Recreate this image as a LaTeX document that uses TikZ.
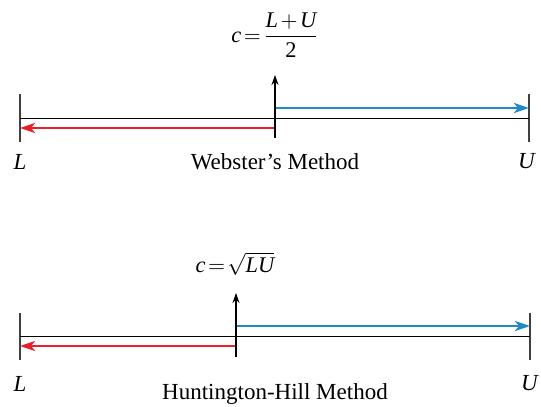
\documentclass[tikz,border=0pt]{standalone}
\usepackage{amsmath}
\usepackage{fontspec}
\setmainfont{Liberation Serif}
\usetikzlibrary{arrows.meta}
\definecolor{lowred}{RGB}{232,32,42}
\definecolor{upblue}{RGB}{31,138,200}
\tikzset{
  tick/.style={line width=0.7pt, black!75},
  base/.style={line width=0.5pt},
  down/.style={line width=1.35pt, lowred, -{Stealth[length=7.5pt,width=5pt,inset=2pt]}},
  up/.style={line width=1.35pt, upblue, -{Stealth[length=7.5pt,width=5pt,inset=2pt]}},
  mid/.style={line width=0.55pt, -{Stealth[length=5pt,width=3.5pt]}},
  formula/.style={font=\fontsize{11.2}{13}\selectfont},
}
\begin{document}
\begin{tikzpicture}[x=0.5pt, y=-0.5pt, font=\fontsize{11.5}{13}\selectfont, line join=round]
				\useasboundingbox (0,0) rectangle (541,407);
				% Webster
				\coordinate (L1) at (20,118);
				\coordinate (U1) at (529,118);
				\coordinate (C1) at (275,118);
				\draw[tick] (20,94)--(20,142) (529,94)--(529,142);
				\draw[base] (L1)--(U1);
				\draw[up] (275,108)--(529,108);
				\draw[down] (275,128)--(20,128);
				\draw[mid] (275,138)--(275,75);
				\node[formula] (f1) at (275,35) {$\textit{c}\mskip2mu{=}\mskip2mu\dfrac{\textit{L}\mskip2mu{+}\mskip2mu\textit{U}}{\textrm{2}}$};
				\node (l1) at (20,162) {\textit{L}};
				\node (u1) at (527,161) {\textit{U}};
				\node (w) at (275,162) {Webster’s Method};
				% Huntington-Hill
				\coordinate (L2) at (20,336);
				\coordinate (U2) at (530,336);
				\coordinate (C2) at (236,336);
				\draw[tick] (20,313)--(20,360) (530,313)--(530,360);
				\draw[base] (L2)--(U2);
				\draw[up] (236,326)--(530,326);
				\draw[down] (236,346)--(20,346);
				\draw[mid] (236,357)--(236,293);
				\node[formula] (f2) at (235,264) {$\textit{c}\mskip2mu{=}\mskip2mu\sqrt{\textit{LU}}$};
				\node (l2) at (20,384) {\textit{L}};
				\node (u2) at (530,383) {\textit{U}};
				\node (h) at (275,394) {Huntington-Hill Method};
\end{tikzpicture}
\end{document}
